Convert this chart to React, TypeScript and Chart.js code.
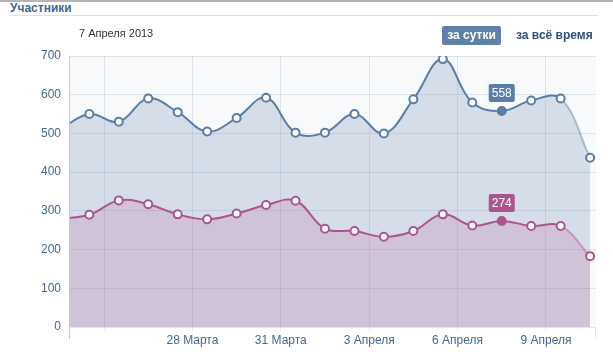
import React, { useEffect, useRef } from "react";
import { Chart, registerables } from "chart.js";

Chart.register(...registerables);

// day labels (each point is at midday of that day); first point is off-chart to the left
const days = [
  "23 Марта", "24 Марта", "25 Марта", "26 Марта", "27 Марта", "28 Марта", "29 Марта",
  "30 Марта", "31 Марта", "1 Апреля", "2 Апреля", "3 Апреля", "4 Апреля", "5 Апреля",
  "6 Апреля", "7 Апреля", "8 Апреля", "9 Апреля", "10 Апреля",
];
const dailyTotal = [510, 550, 530, 590, 555, 505, 540, 592, 502, 502, 550, 500, 588, 692, 580, 558, 585, 590, 437];
const dailyPink = [280, 290, 327, 317, 291, 278, 293, 315, 326, 254, 248, 233, 248, 291, 262, 274, 261, 261, 183];
const xTickValues = [0, 3, 6, 9, 12, 15];
const xTickLabels = ["", "28 Марта", "31 Марта", "3 Апреля", "6 Апреля", "9 Апреля"];
const yTicks = [0, 100, 200, 300, 400, 500, 600, 700];
const highlightIndex = 15;

const BLUE = "#5a7ea6";
const PINK = "#ab5490";
const FONT = "'Liberation Sans', Arial, sans-serif";

export default function App() {
  const ref = useRef<HTMLCanvasElement | null>(null);

  useEffect(() => {
    if (!ref.current) return;
    // x position: days relative to 25 March midnight, each point at midday
    const toPts = (vals: number[]) => vals.map((v, i) => ({ x: i - 1.5, y: v }));
    const last = days.length - 1;

    const bgPlugin = {
      id: "bg",
      beforeDraw(chart: any) {
        const { ctx, chartArea: a } = chart;
        ctx.save();
        ctx.fillStyle = "#f8f9fb";
        ctx.fillRect(a.left, a.top, a.right - a.left, a.bottom - a.top);
        ctx.restore();
      },
      afterDraw(chart: any) {
        const { ctx, chartArea: a } = chart;
        ctx.save();
        ctx.strokeStyle = "#c4cad1";
        ctx.lineWidth = 1;
        ctx.beginPath();
        ctx.moveTo(Math.round(a.left) + 0.5, a.top);
        ctx.lineTo(Math.round(a.left) + 0.5, a.bottom + 12);
        ctx.stroke();
        ctx.strokeStyle = "#e3e7eb";
        ctx.beginPath();
        ctx.moveTo(Math.round(a.right) - 0.5, a.bottom);
        ctx.lineTo(Math.round(a.right) - 0.5, a.bottom + 12);
        ctx.stroke();
        ctx.restore();
      },
    };

    const labelPlugin = {
      id: "labels",
      afterDatasetsDraw(chart: any) {
        const { ctx } = chart;
        chart.data.datasets.forEach((ds: any, di: number) => {
          if (!ds.isLine) return;
          const meta = chart.getDatasetMeta(di);
          const el = meta.data[highlightIndex];
          if (!el) return;
          const txt = String(ds.data[highlightIndex].y);
          ctx.save();
          ctx.font = `12px ${FONT}`;
          const w = ctx.measureText(txt).width + 6;
          const h = 18;
          const x = el.x - w / 2;
          const y = el.y - 9 - h;
          ctx.fillStyle = ds.borderColor;
          ctx.beginPath();
          ctx.roundRect(x, y, w, h, 2);
          ctx.fill();
          ctx.fillStyle = "#ffffff";
          ctx.textAlign = "center";
          ctx.textBaseline = "middle";
          ctx.fillText(txt, el.x, y + h / 2 + 1);
          ctx.restore();
        });
      },
    };

    const mkLine = (label: string, vals: number[], color: string, light: string) => ({
      label,
      isLine: true,
      data: toPts(vals),
      borderColor: color,
      borderWidth: 2,
      fill: false,
      tension: 0.4,
      pointRadius: vals.map((_, i) => (i === 0 ? 0 : 4)),
      pointBorderWidth: 2,
      pointBorderColor: color,
      pointBackgroundColor: vals.map((_, i) => (i === highlightIndex ? color : "#ffffff")),
      segment: {
        borderColor: (c: any) => (c.p1DataIndex === last ? light : undefined),
      },
    });
    const mkFill = (label: string, vals: number[], fill: string) => ({
      label,
      data: toPts(vals),
      borderColor: "rgba(0,0,0,0)",
      backgroundColor: fill,
      borderWidth: 0,
      fill: "origin",
      tension: 0.4,
      pointRadius: 0,
    });

    const chart = new Chart(ref.current, {
      type: "line",
      data: {
        datasets: [
          mkLine("pink", dailyPink, PINK, "rgba(171,84,144,0.45)"),
          mkLine("total", dailyTotal, BLUE, "rgba(90,126,166,0.45)"),
          mkFill("pink fill", dailyPink, "rgba(196,112,162,0.25)"),
          mkFill("total fill", dailyTotal, "rgba(90,126,166,0.22)"),
        ] as any,
      },
      options: {
        animation: false,
        responsive: false,
        layout: { padding: { top: 56, right: 17, left: 0, bottom: 0 } },
        plugins: { legend: { display: false }, tooltip: { enabled: false } },
        scales: {
          x: {
            type: "linear",
            min: -1.19,
            max: 16.7,
            afterFit: (s: any) => { s.height = 25; },
            afterBuildTicks: (s: any) => { s.ticks = xTickValues.map((v) => ({ value: v })); },
            ticks: {
              color: "#45688e",
              font: { family: FONT, size: 12 },
              padding: 2,
              maxRotation: 0,
              autoSkip: false,
              callback: (v: any) => {
                const i = xTickValues.indexOf(Number(v));
                return i >= 0 ? xTickLabels[i] : "";
              },
            },
            grid: { color: "rgba(190,200,212,0.45)", tickLength: 4, tickColor: "rgba(190,200,212,0.3)" },
            border: { display: false },
          },
          y: {
            min: 0,
            max: 700,
            afterFit: (s: any) => { s.width = 69; },
            afterBuildTicks: (s: any) => { s.ticks = yTicks.map((v) => ({ value: v })); },
            ticks: {
              color: "#45688e",
              font: { family: FONT, size: 12 },
              padding: 8,
            },
            grid: { color: "rgba(190,200,212,0.45)", drawTicks: false },
            border: { display: false },
          },
        },
      },
      plugins: [bgPlugin, labelPlugin],
    });
    return () => chart.destroy();
  }, []);

  return (
    <div style={{ position: "absolute", left: 0, top: 0, width: 613, height: 352, background: "#fff", fontFamily: FONT, overflow: "hidden" }}>
      <div style={{ position: "absolute", left: 0, top: 0, width: 613, height: 2, background: "#b5b5b5" }} />
      <div style={{ position: "absolute", left: 10, top: 2, fontSize: 12, fontWeight: "bold", color: "#45688e", lineHeight: "13px" }}>Участники</div>
      <div style={{ position: "absolute", left: 10, top: 15, width: 588, height: 1, background: "#dae1e8" }} />
      <canvas ref={ref} width={613} height={352} style={{ position: "absolute", left: 0, top: 0 }} />
      <div style={{ position: "absolute", left: 79, top: 26, fontSize: 11, color: "#333", lineHeight: "14px" }}>7 Апреля 2013</div>
      <div style={{ position: "absolute", left: 442, top: 26, width: 59, height: 19, borderRadius: 2, background: "#5e81a8", color: "#fff", fontSize: 12, fontWeight: "bold", lineHeight: "19px", textAlign: "center" }}>за сутки</div>
      <div style={{ position: "absolute", left: 516, top: 28, fontSize: 12, fontWeight: "bold", color: "#2f5179", lineHeight: "15px" }}>за всё время</div>
    </div>
  );
}
